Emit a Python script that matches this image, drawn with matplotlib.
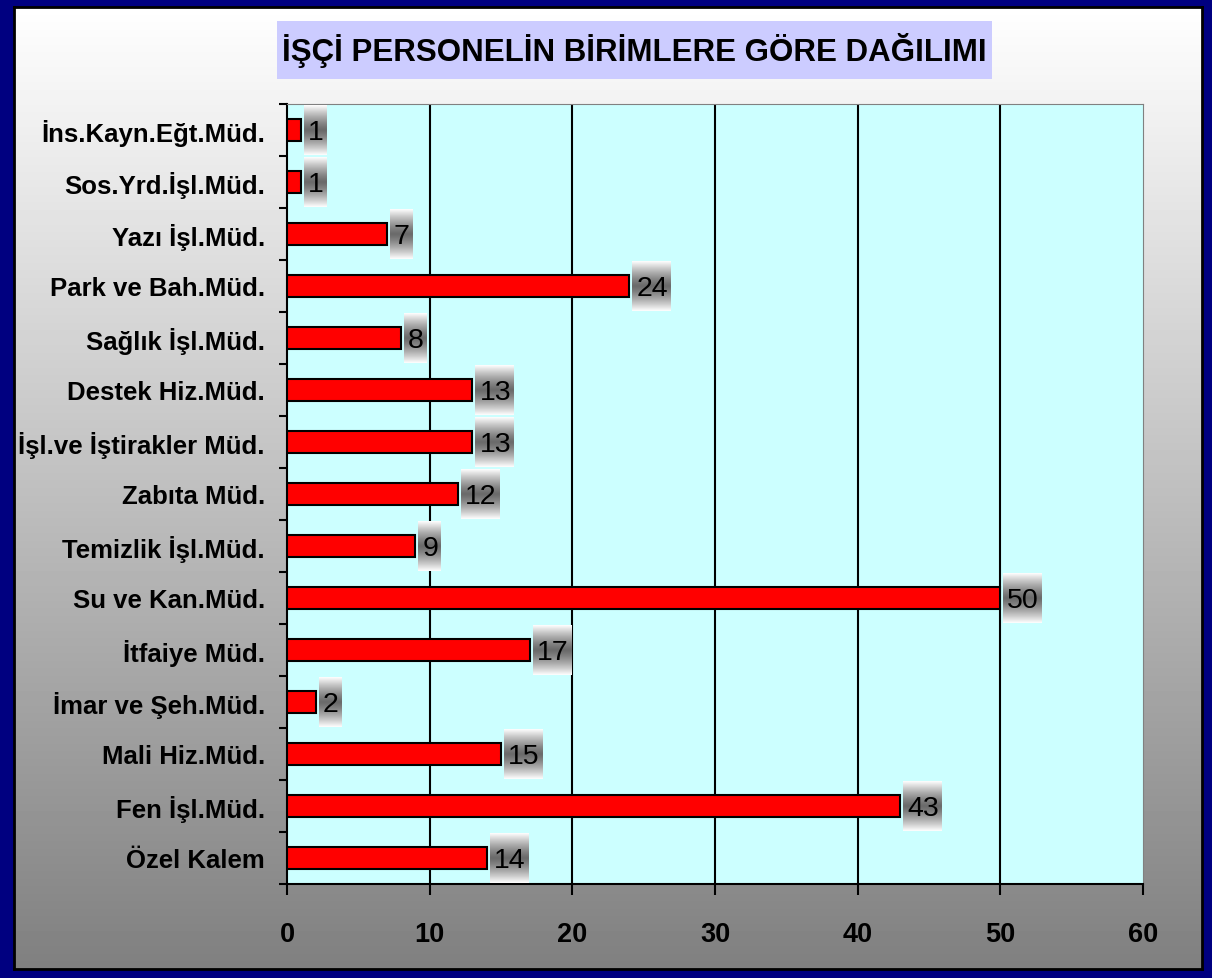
import numpy as np
import matplotlib
matplotlib.use("Agg")
import matplotlib.pyplot as plt
from matplotlib.patches import Rectangle

plt.rcParams["font.family"] = ["Liberation Sans", "DejaVu Sans"]

# bottom -> top
birimler = [
    "Özel Kalem",
    "Fen İşl.Müd.",
    "Mali Hiz.Müd.",
    "İmar ve Şeh.Müd.",
    "İtfaiye Müd.",
    "Su ve Kan.Müd.",
    "Temizlik İşl.Müd.",
    "Zabıta Müd.",
    "İşl.ve İştirakler Müd.",
    "Destek Hiz.Müd.",
    "Sağlık İşl.Müd.",
    "Park ve Bah.Müd.",
    "Yazı İşl.Müd.",
    "Sos.Yrd.İşl.Müd.",
    "İns.Kayn.Eğt.Müd.",
]
isci_sayisi = [14, 43, 15, 2, 17, 50, 9, 12, 13, 13, 8, 24, 7, 1, 1]
x_ticks = [0, 10, 20, 30, 40, 50, 60]
baslik = "İŞÇİ PERSONELİN BİRİMLERE GÖRE DAĞILIMI"

W, H = 1212, 979
fig = plt.figure(figsize=(W / 100, H / 100), dpi=100)
fig.patch.set_facecolor("#000080")

# ── Arka plan (beyaz -> gri gradyan) ───────────────────────────
bl, bt, br, bb = 14, 8, 10, 9
bg = fig.add_axes([bl / W, bb / H, (W - bl - br) / W, (H - bt - bb) / H])
grad = np.linspace(1.0, 0.5, 256).reshape(-1, 1)
bg.imshow(grad, cmap="gray", vmin=0, vmax=1, aspect="auto", extent=[0, 1, 0, 1])
bg.set_xlim(0, 1)
bg.set_ylim(0, 1)
bg.set_xticks([])
bg.set_yticks([])
for s in bg.spines.values():
    s.set_color("black")
    s.set_linewidth(2)

# ── Başlık kutusu ──────────────────────────────────────────────
x0, x1, y0, y1 = 277, 992, 22, 80
fig.patches.append(Rectangle((x0 / W, 1 - y1 / H), (x1 - x0) / W, (y1 - y0) / H,
                             transform=fig.transFigure, facecolor="#CCCCFF",
                             edgecolor="none", zorder=1))
fig.text((x0 + x1) / 2 / W, 1 - 51 / H, baslik, ha="center", va="center",
         fontsize=22.5, fontweight="bold", color="black", zorder=2)

# ── Grafik alanı ───────────────────────────────────────────────
left, right, top, bottom = 287, 1143, 105, 885
ax = fig.add_axes([left / W, 1 - bottom / H, (right - left) / W, (bottom - top) / H])
ax.set_facecolor("#CCFFFF")

y = np.arange(len(birimler))
ax.barh(y, isci_sayisi, height=0.42, color="#FF0000", edgecolor="black",
        linewidth=1.5, zorder=3)

ax.set_xlim(0, 60)
ax.set_ylim(-0.5, len(birimler) - 0.5)
ax.set_xticks(x_ticks)
ax.set_xticklabels([str(t) for t in x_ticks], fontsize=19.5, fontweight="bold")
ax.tick_params(axis="x", direction="out", length=8, width=1.5, pad=19)

ax.set_yticks(np.arange(len(birimler) + 1) - 0.5)
ax.set_yticklabels([])
ax.tick_params(axis="y", which="major", direction="out", length=6, width=1.5)
ax.set_yticks(y, minor=True)
ax.set_yticklabels(birimler, minor=True, fontsize=18.5, fontweight="bold")
ax.tick_params(axis="y", which="minor", length=0, pad=16)

for v in x_ticks[1:-1]:
    ax.axvline(v, color="black", linewidth=1.5, zorder=2)

ax.spines["left"].set_linewidth(1.5)
ax.spines["bottom"].set_linewidth(1.5)
ax.spines["top"].set_color("#808080")
ax.spines["right"].set_color("#808080")

# ── Değer etiketleri (gradyanlı kutular) ───────────────────────
fig.canvas.draw()
renderer = fig.canvas.get_renderer()
inv = ax.transData.inverted()
px = 60 / (right - left)  # data units per pixel
label_grad = np.abs(np.linspace(-1, 1, 256)).reshape(-1, 1)
label_grad = 0.42 + 0.58 * label_grad ** 1.3
for yi, v in zip(y, isci_sayisi):
    t = ax.text(v + 7 * px, yi - 0.03, str(v), ha="left", va="center",
                fontsize=20.5, color="black", zorder=6)
    ext = t.get_window_extent(renderer)
    (tx0, _), (tx1, _) = inv.transform([[ext.x0, ext.y0], [ext.x1, ext.y1]])
    ax.imshow(label_grad, cmap="gray", vmin=0, vmax=1, aspect="auto",
              extent=[v + 3 * px, tx1 + 3 * px, yi - 0.48, yi + 0.48],
              zorder=5)

ax.set_xlim(0, 60)
ax.set_ylim(-0.5, len(birimler) - 0.5)

fig.savefig("out.png", dpi=100, facecolor=fig.get_facecolor())
